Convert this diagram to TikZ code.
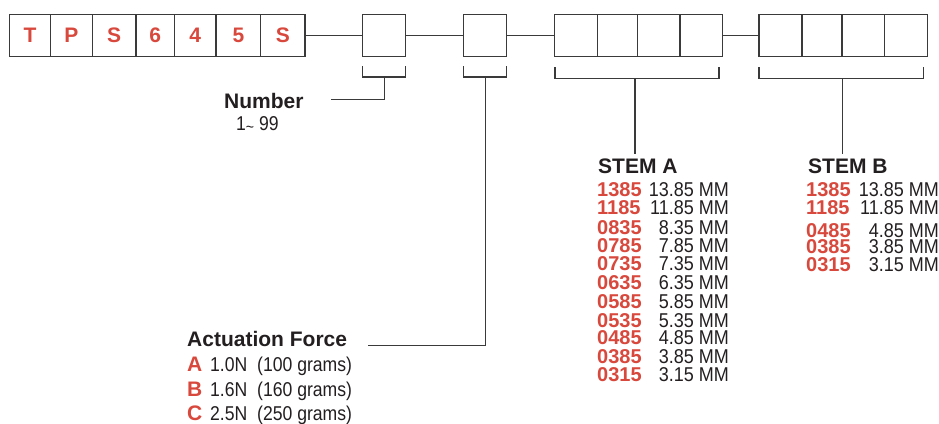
\documentclass[tikz,border=0pt]{standalone}
\usepackage{fontspec}
\setmainfont{Liberation Sans}
\newfontfamily\cond[FakeStretch=0.88]{Liberation Sans}
\newfontfamily\condval[FakeStretch=0.9]{Liberation Sans}
\definecolor{codered}{HTML}{D8483C}
\definecolor{ink}{HTML}{231F20}
\definecolor{linegray}{HTML}{3A3A3A}
\begin{document}
\begin{tikzpicture}[x=1pt,y=-1pt,
  cell/.style={draw=linegray,line width=1.3pt,minimum height=42pt,inner sep=0pt,anchor=center,
    text=codered,font=\fontsize{21}{21}\selectfont\bfseries},
  ln/.style={draw=linegray,line width=1.2pt},
  txt/.style={inner sep=0pt,anchor=base west,text=ink},
  head/.style={txt,font=\fontsize{21}{21}\selectfont\bfseries},
  code/.style={txt,text=codered,font=\fontsize{20}{20}\selectfont\bfseries},
  val/.style={inner sep=0pt,anchor=base east,text=ink,font=\fontsize{20}{20}\selectfont\condval},
  light/.style={txt,font=\fontsize{20}{20}\selectfont\cond}]
\useasboundingbox (0,0) rectangle (939,423);
% prefix cells
\node[cell,minimum width=41.4pt] (p1) at (30,35.7) {T};
\node[cell,minimum width=41.6pt] (p2) at (71.5,35.7) {P};
\node[cell,minimum width=43.7pt] (p3) at (114.15,35.7) {S};
\node[cell,minimum width=38.3pt] (p4) at (155.15,35.7) {6};
\node[cell,minimum width=41.7pt] (p5) at (195.15,35.7) {4};
\node[cell,minimum width=44.7pt] (p6) at (238.35,35.7) {5};
\node[cell,minimum width=44.3pt] (p7) at (282.85,35.7) {S};
% number & force cells
\node[cell,minimum width=43pt] (b1) at (383.8,35.7) {};
\node[cell,minimum width=43.4pt] (b2) at (485,35.7) {};
% stem A cells
\node[cell,minimum width=43pt] (a1) at (576.2,35.7) {};
\node[cell,minimum width=39.6pt] (a2) at (617.5,35.7) {};
\node[cell,minimum width=42.7pt] (a3) at (658.65,35.7) {};
\node[cell,minimum width=42.7pt] (a4) at (701.35,35.7) {};
% stem B cells
\node[cell,minimum width=43pt] (c1) at (780.5,35.7) {};
\node[cell,minimum width=40pt] (c2) at (822,35.7) {};
\node[cell,minimum width=42.7pt] (c3) at (863.35,35.7) {};
\node[cell,minimum width=42.6pt] (c4) at (906,35.7) {};
% connectors between groups
\draw[ln] (p7.east) -- (b1.west);
\draw[ln] (b1.east) -- (b2.west);
\draw[ln] (b2.east) -- (a1.west);
\draw[ln] (a4.east) -- (c1.west);
% brackets
\draw[ln] (362.3,66) |- (405.3,77) -- (405.3,66);
\draw[ln] (463.3,66) |- (506.7,77) -- (506.7,66);
\draw[ln] (555,67) |- (719,78.5) -- (719,67);
\draw[ln] (759,67) |- (923.3,78.5) -- (923.3,67);
\coordinate (k1) at (384.3,77);
\coordinate (k2) at (485.7,77);
\coordinate (k3) at (635,78.5);
\coordinate (k4) at (842.7,78.5);
\coordinate (e1) at (331,99.3);
\coordinate (e2) at (368,345.5);
\coordinate (e3) at (635,154);
\coordinate (e4) at (842.7,154);
\draw[ln] (k1) |- (e1);
\draw[ln] (k2) |- (e2);
\draw[ln] (k3) -- (e3);
\draw[ln] (k4) -- (e4);
% Number
\node[head] (num) at (224,108.3) {Number};
\node[light] (numr) at (236,130) {1\raisebox{-2pt}{\fontsize{16}{16}\selectfont\char"7E}\ 99};
% Actuation force
\node[head] (act) at (187,346.7) {Actuation Force};
\foreach \l/\f/\g/\y [count=\i] in {A/1.0N/100/371.7, B/1.6N/160/396, C/2.5N/250/420.5}{
  \node[code,font=\fontsize{21}{21}\selectfont\bfseries] (fl\i) at (187,\y) {\l};
  \node[light] (fn\i) at (210,\y) {\f};
  \node[light] (fg\i) at (257,\y) {(\g\ grams)};
}
% STEM A
\node[head] (sa) at (598,173.3) {STEM A};
\foreach \c/\v/\y [count=\i] in {1385/13.85/196,1185/11.85/214,0835/8.35/234,0785/7.85/252,0735/7.35/270,0635/6.35/289,0585/5.85/308,0535/5.35/327,0485/4.85/344,0385/3.85/363,0315/3.15/381}{
  \node[code] (sac\i) at (597,\y) {\c};
  \node[val] (sav\i) at (729,\y) {\v\ MM};
}
% STEM B
\node[head] (sb) at (808,173.3) {STEM B};
\foreach \c/\v/\y [count=\i] in {1385/13.85/196,1185/11.85/214,0485/4.85/237,0385/3.85/253.5,0315/3.15/271}{
  \node[code] (sbc\i) at (806,\y) {\c};
  \node[val] (sbv\i) at (939,\y) {\v\ MM};
}
\end{tikzpicture}
\end{document}
